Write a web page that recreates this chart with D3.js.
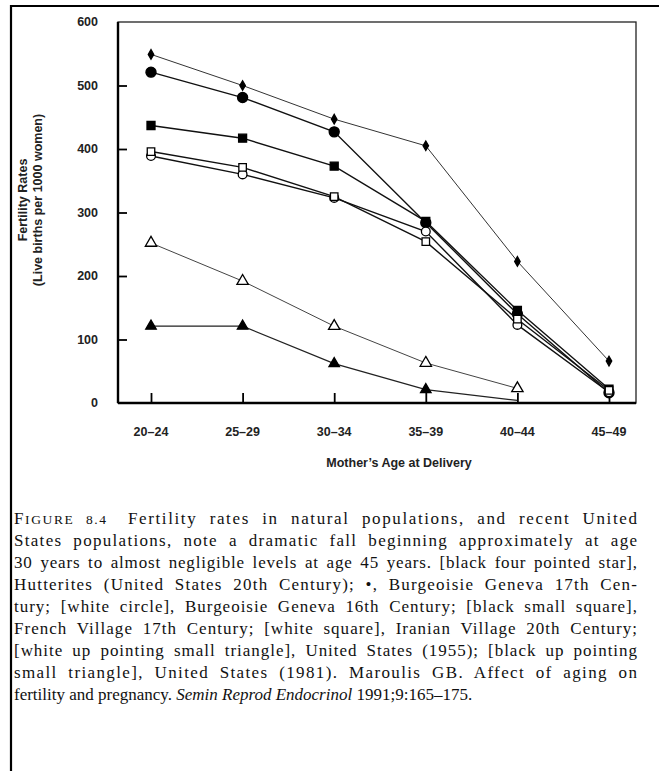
<!DOCTYPE html>
<html>
<head>
<meta charset="utf-8">
<script src="https://cdn.jsdelivr.net/npm/d3@7"></script>
<style>
  body { margin: 0; background: #fff; }
  svg { display: block; }
</style>
</head>
<body>
<div class="container"></div>
<script>

// Age groups on the x axis
const ageGroups = ["20–24", "25–29", "30–34", "35–39", "40–44", "45–49"]
const yTicks = [0, 100, 200, 300, 400, 500, 600]

// Fertility rates (live births per 1000 women)
const hutterites = [549, 500, 447, 405, 223, 66]
const geneva17 = [521, 481, 427, 284, 140, 16]
const french17 = [437, 417, 373, 286, 146, 22]
const geneva16 = [389, 360, 323, 270, 123, 17]
const iranian20 = [396, 371, 325, 254, 132, 20]
const us1955 = [252, 192, 121, 63, 23]
const us1981 = [121, 121, 62, 21, 4]

const captionLines = [
    "Fertility rates in natural populations, and recent United",
    "States populations, note a dramatic fall beginning approximately at age",
    "30 years to almost negligible levels at age 45 years. [black four pointed star],",
    "Hutterites (United States 20th Century); •, Burgeoisie Geneva 17th Cen-",
    "tury; [white circle], Burgeoisie Geneva 16th Century; [black small square],",
    "French Village 17th Century; [white square], Iranian Village 20th Century;",
    "[white up pointing small triangle], United States (1955); [black up pointing",
    "small triangle], United States (1981). Maroulis GB. Affect of aging on"
]

const series = [
    {values: hutterites, shape: d3.symbolDiamond, size: 26, fill: "black", stroke: "#333", sw: 1},
    {values: geneva17, shape: d3.symbolCircle, size: 80, fill: "black", stroke: "#111", sw: 1.4},
    {values: french17, shape: d3.symbolSquare, size: 64, fill: "black", stroke: "#111", sw: 1.4},
    {values: geneva16, shape: d3.symbolCircle, size: 60, fill: "white", stroke: "#111", sw: 1.4},
    {values: iranian20, shape: d3.symbolSquare, size: 56, fill: "white", stroke: "#111", sw: 1.4},
    {values: us1981, shape: d3.symbolTriangle, size: 48, fill: "black", stroke: "#222", sw: 1.2},
    {values: us1955, shape: d3.symbolTriangle, size: 56, fill: "white", stroke: "#444", sw: 1}
]

let outerWidth = 659
let outerHeight = 771
let margin = {top: 22, left: 118, right: 23, bottom: 368}
let width = outerWidth - margin.left - margin.right
let height = outerHeight - margin.top - margin.bottom

const root = d3.select(".container")
    .append("svg")
    .attr("width", outerWidth)
    .attr("height", outerHeight)

// page frame
root.append("path")
    .attr("d", "M11,771 V6 H659")
    .attr("fill", "none")
    .attr("stroke", "black")
    .attr("stroke-width", 2.2)

const svg = root.append("g")
    .attr("transform", `translate(${margin.left}, ${margin.top})`)

const x = d3.scalePoint()
    .domain(ageGroups)
    .range([33, 491])

const y = d3.scaleLinear()
    .domain([0, 600])
    .range([height, 0])

// box
svg.append("rect")
    .attr("width", width)
    .attr("height", height)
    .attr("fill", "none")
    .attr("stroke", "#222")
    .attr("stroke-width", 1.3)

svg.append("line")
    .attr("y2", height)
    .attr("stroke", "black")
    .attr("stroke-width", 2.4)
svg.append("line")
    .attr("y1", height).attr("y2", height)
    .attr("x2", width)
    .attr("stroke", "black")
    .attr("stroke-width", 2.4)

// y axis: ticks pointing inward
const yAxis = svg.append("g")
    .call(d3.axisRight(y).tickValues(yTicks).tickSize(9).tickFormat(""))
yAxis.select(".domain").remove()
yAxis.selectAll(".tick line")
    .attr("stroke", "black")
    .attr("stroke-width", 1.8)
    .attr("opacity", d => (d === 0 || d === 600) ? 0 : 1)

svg.append("g")
    .selectAll("text")
    .data(yTicks)
    .join("text")
    .attr("x", -20)
    .attr("y", d => y(d))
    .attr("dy", "0.35em")
    .attr("text-anchor", "end")
    .attr("font-family", "Liberation Sans, Arial, sans-serif")
    .attr("font-weight", "bold")
    .attr("font-size", 12.5)
    .attr("fill", "#222")
    .text(d => d)

// x axis: ticks pointing upward
const xAxis = svg.append("g")
    .attr("transform", `translate(0, ${height})`)
    .call(d3.axisTop(x).tickSize(10).tickFormat(""))
xAxis.select(".domain").remove()
xAxis.selectAll(".tick line")
    .attr("stroke", "black")
    .attr("stroke-width", 1.8)

svg.append("g")
    .selectAll("text")
    .data(ageGroups)
    .join("text")
    .attr("x", d => x(d))
    .attr("y", height + 29)
    .attr("dy", "0.35em")
    .attr("text-anchor", "middle")
    .attr("font-family", "Liberation Sans, Arial, sans-serif")
    .attr("font-weight", "bold")
    .attr("font-size", 12.5)
    .attr("fill", "#222")
    .text(d => d)

svg.append("text")
    .attr("x", 281)
    .attr("y", height + 60)
    .attr("dy", "0.35em")
    .attr("text-anchor", "middle")
    .attr("font-family", "Liberation Sans, Arial, sans-serif")
    .attr("font-weight", "bold")
    .attr("font-size", 12.5)
    .attr("fill", "#222")
    .text("Mother’s Age at Delivery")

// y axis title
const yTitle = root.append("text")
    .attr("transform", "translate(30, 200) rotate(-90)")
    .attr("text-anchor", "middle")
    .attr("font-family", "Liberation Sans, Arial, sans-serif")
    .attr("font-weight", "bold")
    .attr("font-size", 12.5)
    .attr("fill", "#222")
yTitle.append("tspan").attr("x", 0).attr("y", -3).text("Fertility Rates")
yTitle.append("tspan").attr("x", 0).attr("y", 12).text("(Live births per 1000 women)")

// lines and markers
const line = d3.line()
    .x((d, i) => x(ageGroups[i]))
    .y(d => y(d))

const groups = svg.selectAll(".series")
    .data(series)
    .join("g")
    .attr("class", "series")

groups.append("path")
    .attr("d", d => line(d.values))
    .attr("fill", "none")
    .attr("stroke", d => d.stroke)
    .attr("stroke-width", d => d.sw)

groups.each(function(s) {
    d3.select(this).selectAll("path.mark")
        .data(s.values.filter(v => v > 10))
        .join("path")
        .attr("class", "mark")
        .attr("transform", (v, i) => `translate(${x(ageGroups[i])}, ${y(v)})`)
        .attr("d", d3.symbol().type(s.shape).size(s.size))
        .attr("fill", s.fill)
        .attr("stroke", "black")
        .attr("stroke-width", 1.3)
})

// caption, justified: spread extra room over letters and word spaces
const caption = root.append("g")
    .attr("font-family", "Liberation Serif, Times New Roman, serif")
    .attr("font-size", 17)
    .attr("fill", "#111")

const lineWidth = 623

captionLines.forEach((t, i) => {
    const tx = caption.append("text")
        .attr("x", 14)
        .attr("y", 524 + i * 22)
    let lead = 0
    if (i === 0) {
        tx.append("tspan").text("F")
        tx.append("tspan").attr("font-size", 13.5).text("IGURE 8.4")
        tx.append("tspan").attr("dx", 8).text(" " + t)
        lead = 8
    } else {
        tx.text(t)
    }
    const w = tx.node().getComputedTextLength() + lead
    const str = tx.text()
    const gaps = (str.match(/ /g) || []).length
    const extra = lineWidth - w
    const ls = extra * 0.65 / (str.length - 1)
    const ws = (extra * 0.35 - ls * 0) / gaps
    tx.attr("letter-spacing", ls)
      .attr("word-spacing", ws)
})

const last = caption.append("text")
    .attr("x", 14)
    .attr("y", 524 + 8 * 22)
last.append("tspan").text("fertility and pregnancy. ")
last.append("tspan").attr("font-style", "italic").text("Semin Reprod Endocrinol")
last.append("tspan").text(" 1991;9:165–175.")

</script>
</body>
</html>
